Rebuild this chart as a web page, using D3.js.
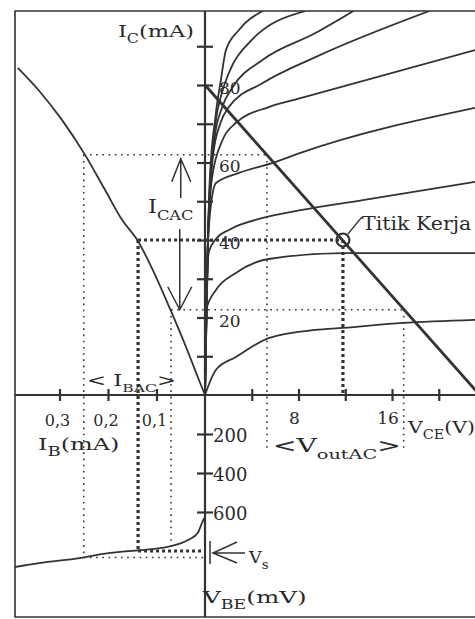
<!DOCTYPE html>
<html>
<head>
<meta charset="utf-8">
<script src="https://cdn.jsdelivr.net/npm/d3@7"></script>
<style>
  html, body { margin: 0; padding: 0; background: #fff; }
  svg { display: block; }
  text { font-family: "DejaVu Serif", serif; fill: #2a2a2a; }
</style>
</head>
<body>
<svg id="chart" width="475" height="619"></svg>
<script>
// Output characteristics IC (mA) vs VCE (V), one curve per base-current step
const curveA = [[0,0],[0.94,6.5],[2.64,9.8],[5.45,14.7],[9.45,16.8],[11.8,17.3],[16.9,18.6],[23.1,19.4]];
const curveB = [[0,0],[0.1,22],[0.94,27.1],[2.64,31.5],[5.45,35.1],[11.8,36.6],[23.1,36.6]];
const curveC = [[0,0],[0.12,25],[0.34,37],[1.0,40.5],[2.04,42.6],[4.94,45.7],[8.17,47.7],[13.5,50.3],[23.1,55]];
const curveD = [[0,0],[0.15,30],[0.4,46],[0.94,54.7],[2.9,57.3],[5.8,59.9],[8.17,62.5],[23.1,74.1]];
const curveE = [[0,0],[0.2,35],[0.6,56],[1.5,65.8],[2.64,70.2],[5.45,74.3],[8.17,76.6],[23.1,89]];
const curveF = [[0,0],[0.25,40],[0.7,62],[1.3,70],[2.04,74.3],[4.94,80.5],[9.45,87.2],[19.2,99.1]];
const curveG = [[0,0],[0.3,45],[0.8,66],[1.5,74.5],[2.38,79.5],[4.94,86.5],[9.45,93.4],[12.7,99.1]];
const curveH = [[0,0],[0.35,50],[0.9,70],[1.5,78.5],[2.04,83.1],[3.74,90.8],[8.6,99.1]];
const curveI = [[0,0],[0.4,55],[0.9,72],[1.36,81.3],[1.79,89],[2.9,94.2],[4.94,99.1]];
const outputCurves = [curveA, curveB, curveC, curveD, curveE, curveF, curveG, curveH, curveI];

// Transfer characteristic IC (mA) vs IB (mA)
const transferCurve = [[0.386,84.4],[0.340,78.2],[0.295,71.0],[0.247,61.9],[0.206,52.9],[0.171,45.2],[0.138,39.7],[0.103,31.0],[0.072,22.2],[0.035,11.1],[0.010,3.1],[0,0]];
// Input characteristic VBE (mV) vs IB (mA)
const inputCurve = [[0.392,882],[0.342,862],[0.258,836],[0.196,810],[0.133,795],[0.077,779],[0.035,744],[0.015,708],[0.008,667],[0.002,631]];

// DC load line end points
const loadLineIC = [80, 0];
const loadLineVCE = [0, 23.5];

// Operating point and signal swing
const icQ = 40, vceQ = 11.8, ibQ = 0.138, vbeQ = 800;
const icHi = 62, icLo = 22;
const ibHi = 0.25, ibLo = 0.07;
const vceHi = 5.3, vceLo = 17.0;
const vbeHi = 833, vbeLo = 776;

// Axis ticks and labels
const icTicks = [10, 20, 30, 40, 50, 60, 70, 80, 90];
const icLabels = [20, 40, 60, 80];
const vceTicks = [4, 8, 12, 16, 20];
const vceLabels = [8, 16];
const ibTicks = [0.1, 0.2, 0.3];
const ibLabels = ["0,1", "0,2", "0,3"];
const vbeTicks = [200, 400, 600];
const vbeLabels = ["200", "400", "600"];

const INK = "#333";
const svg = d3.select("#chart");

// Quadrant scales sharing the origin
const X0 = 205, Y0 = 395;
const xV = d3.scaleLinear().domain([0, 23.1]).range([X0, 475]);
const yI = d3.scaleLinear().domain([0, 80]).range([Y0, 85]);
const xB = d3.scaleLinear().domain([0, 0.4]).range([X0, 11]);
const yB = d3.scaleLinear().domain([0, 600]).range([Y0, 512]);

const frame = { left: 15, top: 11, right: 475, bottom: 617 };

svg.append("clipPath").attr("id", "frameClip")
  .append("rect").attr("x", frame.left).attr("y", frame.top)
  .attr("width", frame.right - frame.left).attr("height", frame.bottom - frame.top);

// Frame and axes
const axes = svg.append("g").attr("stroke", INK).attr("fill", "none");
axes.append("path").attr("stroke-width", 1.6)
  .attr("d", `M${frame.right},${frame.top}H${frame.left}V${frame.bottom}H${frame.right}`);
axes.append("line").attr("stroke-width", 2.2)
  .attr("x1", X0).attr("x2", X0).attr("y1", frame.top).attr("y2", frame.bottom);
axes.append("line").attr("stroke-width", 2)
  .attr("x1", frame.left).attr("x2", frame.right).attr("y1", Y0).attr("y2", Y0);

function tickGroup(axis, transform) {
  const g = svg.append("g").attr("transform", transform).call(axis);
  g.select(".domain").remove();
  g.selectAll(".tick line").attr("stroke", INK).attr("stroke-width", 2.2);
  g.selectAll(".tick text").remove();
  return g;
}
tickGroup(d3.axisRight(yI).tickValues(icTicks).tickSize(16).tickFormat(""), `translate(${X0 - 8},0)`);
tickGroup(d3.axisRight(yB).tickValues(vbeTicks).tickSize(16).tickFormat(""), `translate(${X0 - 8},0)`);
tickGroup(d3.axisBottom(xV).tickValues(vceTicks).tickSize(12).tickFormat(""), `translate(0,${Y0 - 6})`);
tickGroup(d3.axisBottom(xB).tickValues(ibTicks).tickSize(12).tickFormat(""), `translate(0,${Y0 - 6})`);

// Guide lines
const guides = svg.append("g").attr("fill", "none").attr("stroke", INK);
function dotted(x1, y1, x2, y2, bold) {
  guides.append("line")
    .attr("x1", x1).attr("y1", y1).attr("x2", x2).attr("y2", y2)
    .attr("stroke-width", bold ? 3.2 : 1.6)
    .attr("stroke-dasharray", bold ? "3,3" : "1.6,4.6");
}
// swing edges (thin)
dotted(xB(ibHi), yI(icHi), xV(vceHi), yI(icHi), false);
dotted(xB(ibLo), yI(icLo), xV(vceLo), yI(icLo), false);
dotted(xB(ibHi), yI(icHi), xB(ibHi), yB(vbeHi), false);
dotted(xB(ibLo), yI(icLo), xB(ibLo), yB(vbeLo), false);
dotted(xV(vceHi), yI(icHi), xV(vceHi), yB(280), false);
dotted(xV(vceLo), yI(icLo), xV(vceLo), yB(280), false);
dotted(xB(ibHi), yB(vbeHi), X0, yB(vbeHi), false);
// operating point (bold)
dotted(xB(ibQ), yI(icQ), xV(vceQ), yI(icQ), true);
dotted(xV(vceQ), yI(icQ), xV(vceQ), Y0, true);
dotted(xB(ibQ), yI(icQ), xB(ibQ), yB(vbeQ), true);
dotted(xB(ibQ), yB(vbeQ), X0, yB(vbeQ), true);

// Characteristic curves
const plot = svg.append("g").attr("clip-path", "url(#frameClip)")
  .attr("fill", "none").attr("stroke", INK).attr("stroke-linejoin", "round");

const outLine = d3.line().x(d => xV(d[0])).y(d => yI(d[1])).curve(d3.curveMonotoneX);
plot.selectAll("path.out").data(outputCurves).join("path")
  .attr("class", "out").attr("stroke-width", 1.8).attr("d", outLine);

const transferLine = d3.line().x(d => xB(d[0])).y(d => yI(d[1])).curve(d3.curveMonotoneX);
plot.append("path").attr("stroke-width", 1.8).attr("d", transferLine(transferCurve));

const inputLine = d3.line().x(d => xB(d[0])).y(d => yB(d[1])).curve(d3.curveMonotoneX);
plot.append("path").attr("stroke-width", 1.8).attr("d", inputLine(inputCurve));

// Load line
plot.append("line").attr("stroke-width", 2.8)
  .attr("x1", xV(loadLineVCE[0])).attr("y1", yI(loadLineIC[0]))
  .attr("x2", xV(loadLineVCE[1])).attr("y2", yI(loadLineIC[1]));

// Operating point marker
svg.append("circle").attr("cx", xV(vceQ)).attr("cy", yI(icQ)).attr("r", 6.5)
  .attr("fill", "none").attr("stroke", INK).attr("stroke-width", 2.2);
svg.append("line").attr("stroke", INK).attr("stroke-width", 1.3)
  .attr("x1", xV(vceQ) + 5).attr("y1", yI(icQ) - 6)
  .attr("x2", xV(vceQ) + 19).attr("y2", yI(icQ) - 23);

// Arrows for the collector current swing
const arrows = svg.append("g").attr("stroke", INK).attr("fill", "none").attr("stroke-width", 1.5);
const ax = xB(0.05);
arrows.append("path").attr("d", `M${ax},${yI(icQ) - 42}V${yI(icHi) + 4}M${ax - 9},${yI(icHi) + 27}L${ax},${yI(icHi) + 4}L${ax + 10},${yI(icHi) + 27}`);
arrows.append("path").attr("d", `M${ax - 1},${yI(icQ) - 11}V${yI(icLo)}M${ax - 13},${yI(icLo) - 23}L${ax - 1},${yI(icLo)}L${ax + 11},${yI(icLo) - 23}`);

// Input voltage marker
arrows.append("path").attr("d", `M${X0 + 5},${yB(vbeQ) - 10}V${yB(vbeQ) + 13}M${X0 + 32},${yB(vbeQ) - 9}L${X0 + 8},${yB(vbeQ) + 2}L${X0 + 32},${yB(vbeQ) + 12}M${X0 + 8},${yB(vbeQ) + 2}H${X0 + 40}`);

// Text helper: parts are [text, "sub" | ""], drawn with a horizontal stretch
function label(x, y, parts, size, sx, subSize) {
  const t = svg.append("text")
    .attr("transform", `translate(${x},${y}) scale(${sx},1)`)
    .attr("font-size", size);
  let shifted = 0;
  parts.forEach(([s, kind]) => {
    const ts = t.append("tspan").text(s);
    const want = kind === "sub" ? size * 0.38 : 0;
    if (want !== shifted) { ts.attr("dy", want - shifted); shifted = want; }
    if (kind === "sub") ts.attr("font-size", subSize || size * 0.72);
  });
  return t;
}

// Tick labels
icLabels.forEach(v => label(X0 + 14, yI(v) + 9, [[String(v), ""]], 17, 1));
vceLabels.forEach(v => svg.append("text").attr("x", xV(v) - 4).attr("y", 424)
  .attr("text-anchor", "middle").attr("font-size", 17).text(v));
ibTicks.forEach((v, i) => svg.append("text").attr("x", xB(v) - 2).attr("y", 426)
  .attr("text-anchor", "middle").attr("font-size", 16).text(ibLabels[i]));
vbeTicks.forEach((v, i) => label(X0 + 8, yB(v) + 8, [[vbeLabels[i], ""]], 18, 1));

// Axis titles and annotations
label(118, 37, [["I", ""], ["C", "sub"], ["(mA)", ""]], 17, 1.32, 12);
label(38, 450, [["I", ""], ["B", "sub"], ["(mA)", ""]], 16, 1.5, 12);
label(408, 433, [["V", ""], ["CE", "sub"], ["(V)", ""]], 17, 1.2, 12);
label(203, 603, [["V", ""], ["BE", "sub"], ["(mV)", ""]], 17, 1.45, 12);
label(148, 213, [["I", ""], ["CAC", "sub"]], 18, 1.25, 13);
label(87, 386, [["< I", ""], ["BAC", "sub"], [">", ""]], 16, 1.42, 11);
label(273, 452, [["<V", ""], ["outAC", "sub"], [">", ""]], 19, 1.48, 13);
label(249, 563, [["V", ""], ["s", "sub"]], 16, 1.1, 12);
label(362, 230, [["Titik Kerja", ""]], 18, 1.14);
</script>
</body>
</html>
